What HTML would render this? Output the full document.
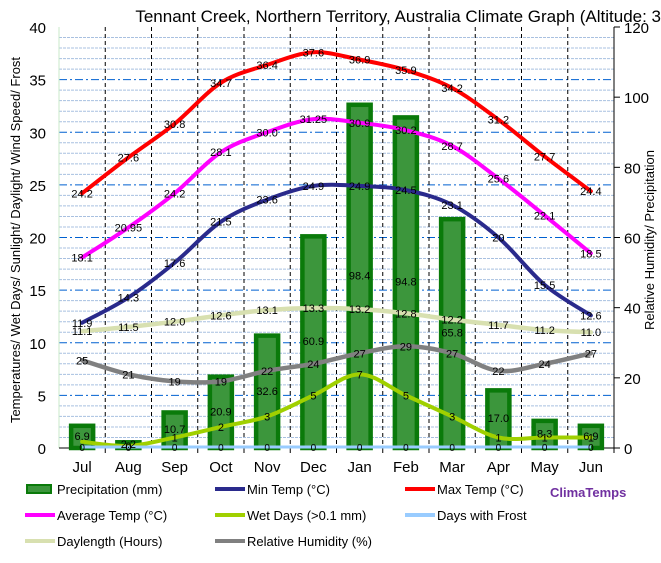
<!DOCTYPE html>
<html><head><meta charset="utf-8"><style>
body{margin:0;background:#fff;font-family:"Liberation Sans",sans-serif}
svg text{font-family:"Liberation Sans",sans-serif}
</style></head><body>
<svg id="s" width="661" height="558" xmlns="http://www.w3.org/2000/svg"></svg>
<script>
const S=document.getElementById('s');let h='';
const L=59,R=614,T=27,B=448,cw=(R-L)/12;
const X=i=>L+cw*(i+0.5),Y=v=>B-v*(B-T)/40,YR=v=>B-v*(B-T)/120;
for(let v=1;v<40;v++){ if(v%5==0) h+=`<line x1="${L}" x2="${R}" y1="${Y(v)}" y2="${Y(v)}" stroke="#0060d0" stroke-dasharray="8,3,2,3" stroke-width="1"/>`;
 else h+=`<line x1="${L}" x2="${R}" y1="${Y(v)}" y2="${Y(v)}" stroke="#a8c0e0" stroke-dasharray="3,1" stroke-width="1"/>`;}
for(let i=1;i<12;i++){const x=L+cw*i;h+=`<line x1="${x}" x2="${x}" y1="${T}" y2="${B}" stroke="#000" stroke-dasharray="4,3"/>`;}
h+=`<line x1="${L}" x2="${L}" y1="${T}" y2="${B}" stroke="#c8e8c8"/>`;
h+=`<line x1="${R}" x2="${R}" y1="${T}" y2="${B+4}" stroke="#000"/>`;
h+=`<line x1="${L}" x2="${R}" y1="${B}" y2="${B}" stroke="#000"/>`;
for(let v=0;v<=40;v+=5)h+=`<text x="46" y="${Y(v)+6}" font-size="15" text-anchor="end">${v}</text>`;
for(let v=0;v<=120;v+=20)h+=`<line x1="${R}" x2="${R+6}" y1="${YR(v)}" y2="${YR(v)}" stroke="#000"/><text x="${R+10}" y="${YR(v)+6}" font-size="15">${v}</text>`;
const M=['Jul','Aug','Sep','Oct','Nov','Dec','Jan','Feb','Mar','Apr','May','Jun'];
M.forEach((m,i)=>{h+=`<text x="${X(i)}" y="472" font-size="15" text-anchor="middle">${m}</text>`;h+=`<line x1="${L+cw*(i+1)}" x2="${L+cw*(i+1)}" y1="${B}" y2="${B+5}" stroke="#000"/>`});
const P=[6.9,2.2,10.7,20.9,32.6,60.9,98.4,94.8,65.8,17.0,8.3,6.9];
P.forEach((p,i)=>{const y=YR(p);h+=`<rect x="${X(i)-11}" y="${y+2}" width="22" height="${B-y-2}" fill="#3c963c" stroke="#0a7a0a" stroke-width="4.5"/>`});
function curve(v,f,col,w){let pts=v.map((a,i)=>[X(i),f(a)]);let d=`M${pts[0]}`;
 for(let i=0;i<pts.length-1;i++){const p0=pts[i-1]||pts[i],p1=pts[i],p2=pts[i+1],p3=pts[i+2]||p2;
 d+=` C${p1[0]+(p2[0]-p0[0])/6},${p1[1]+(p2[1]-p0[1])/6} ${p2[0]-(p3[0]-p1[0])/6},${p2[1]-(p3[1]-p1[1])/6} ${p2[0]},${p2[1]}`;}
 h+=`<path d="${d}" fill="none" stroke="${col}" stroke-width="${w}" stroke-linecap="round"/>`;}
const mx=[24.2,27.6,30.8,34.7,36.4,37.6,36.9,35.9,34.2,31.2,27.7,24.4],
av=[18.1,20.95,24.2,28.1,30.0,31.25,30.9,30.2,28.7,25.6,22.1,18.5],
mn=[11.9,14.3,17.6,21.5,23.6,24.9,24.9,24.5,23.1,20,15.5,12.6],
dl=[11.1,11.5,12.0,12.6,13.1,13.3,13.2,12.8,12.2,11.7,11.2,11.0],
hu=[25,21,19,19,22,24,27,29,27,22,24,27],
wd=[0.6,0.2,1,2,3,5,7,5,3,1,1,1];
curve(dl,Y,'#d8e0b0',4.5);curve(hu,YR,'#808080',4.5);curve(wd,Y,'#a0d000',4);
h+=`<line x1="${X(0)}" x2="${X(11)}" y1="${B-1}" y2="${B-1}" stroke="#99ccff" stroke-width="3"/>`;
curve(mn,Y,'#2a2a8c',4);curve(av,Y,'#ff00ff',4);curve(mx,Y,'#ff0000',4);
const lab=(v,f,t)=>v.forEach((a,i)=>h+=`<text x="${X(i)}" y="${f(a)+4}" font-size="11" text-anchor="middle">${t?t[i]:a}</text>`);
lab(mx,Y,mx.map(a=>a.toFixed(1)));lab(av,Y,['18.1','20.95','24.2','28.1','30.0','31.25','30.9','30.2','28.7','25.6','22.1','18.5']);
lab(mn,Y,['11.9','14.3','17.6','21.5','23.6','24.9','24.9','24.5','23.1','20','15.5','12.6']);
lab(dl,Y,dl.map(a=>a.toFixed(1)));lab(hu,YR);lab(wd,Y,['','0','1','2','3','5','7','5','3','1','1','1']);
P.forEach((p,i)=>{h+=`<text x="${X(i)}" y="${YR(p/2)+4}" font-size="11" text-anchor="middle">${p.toFixed(1)}</text>`});
M.forEach((m,i)=>h+=`<text x="${X(i)}" y="${B+3}" font-size="10" text-anchor="middle">0</text>`);
h+=`<text x="661" y="22" font-size="17" text-anchor="end">Tennant Creek, Northern Territory, Australia Climate Graph (Altitude: 3</text>`;
h+=`<text transform="translate(20,240) rotate(-90)" font-size="13" text-anchor="middle">Temperatures/ Wet Days/ Sunlight/ Daylight/ Wind Speed/ Frost</text>`;
h+=`<text transform="translate(654,240) rotate(-90)" font-size="13" text-anchor="middle">Relative Humidity/ Precipitation</text>`;
const lg=[[25,489,'bar','Precipitation (mm)'],[215,489,'#2a2a8c','Min Temp (°C)'],[405,489,'#ff0000','Max Temp (°C)'],
[25,515,'#ff00ff','Average Temp (°C)'],[215,515,'#a0d000','Wet Days (>0.1 mm)'],[405,515,'#99ccff','Days with Frost'],
[25,541,'#d8e0b0','Daylength (Hours)'],[215,541,'#808080','Relative Humidity (%)']];
lg.forEach(([x,y,c,t])=>{if(c=='bar')h+=`<rect x="${x+2}" y="${y-4}" width="24" height="8" fill="#3c963c" stroke="#0a7a0a" stroke-width="2"/>`;
 else h+=`<line x1="${x}" x2="${x+30}" y1="${y}" y2="${y}" stroke="${c}" stroke-width="4"/>`;
 h+=`<text x="${x+32}" y="${y+5}" font-size="13">${t}</text>`});
h+=`<text x="550" y="497" font-size="13" font-weight="bold" fill="#7030a0">ClimaTemps</text>`;
S.innerHTML=h;
</script>
</body></html>
